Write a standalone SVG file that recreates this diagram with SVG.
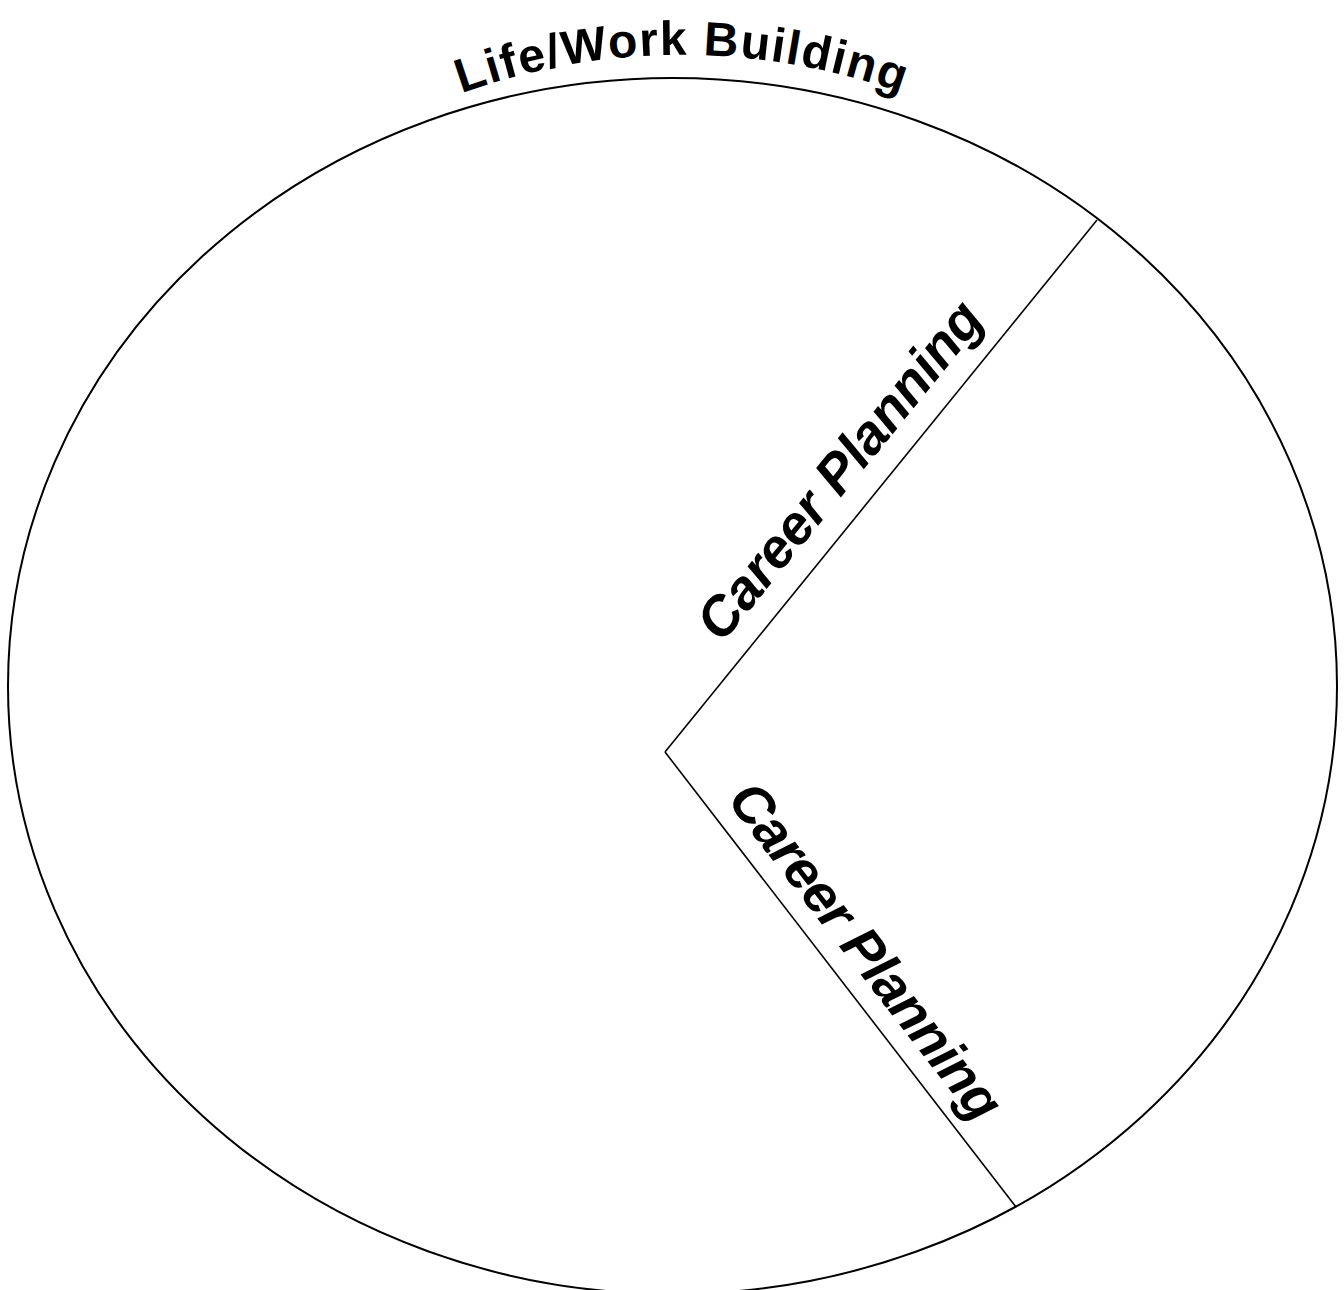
<svg xmlns="http://www.w3.org/2000/svg" width="1344" height="1290" viewBox="0 0 1344 1290">
<style>
.outline{fill:none;stroke:#000;stroke-width:2}
.conn{fill:none;stroke:#000;stroke-width:1.6}
.title{font-family:"Liberation Sans",Arial,sans-serif;font-weight:bold;font-size:48px;letter-spacing:1.5px;fill:#000}
.lbl{font-family:"Liberation Sans",Arial,sans-serif;font-weight:bold;font-style:italic;font-size:55px;fill:#000}
</style>
<defs>
<path id="arc" d="M 119 380 A 650 650 0 0 1 1245 380"/>
</defs>
<rect width="1344" height="1290" fill="#fff"/>
<g id="circle">
<ellipse class="outline" cx="672.5" cy="686" rx="664.5" ry="608"/>
<text class="title"><textPath href="#arc" startOffset="50%" text-anchor="middle">Life/Work Building</textPath></text>
</g>
<g id="connectors">
<line class="conn" x1="665" y1="752" x2="1097" y2="220"/>
<line class="conn" x1="665" y1="752" x2="1016" y2="1207"/>
</g>
<g id="label-upper">
<text class="lbl" transform="translate(722,644) rotate(-50.9)" textLength="418" lengthAdjust="spacing">Career Planning</text>
</g>
<g id="label-lower">
<text class="lbl" transform="translate(726,800) rotate(52.35)" textLength="410" lengthAdjust="spacing">Career Planning</text>
</g>
</svg>
